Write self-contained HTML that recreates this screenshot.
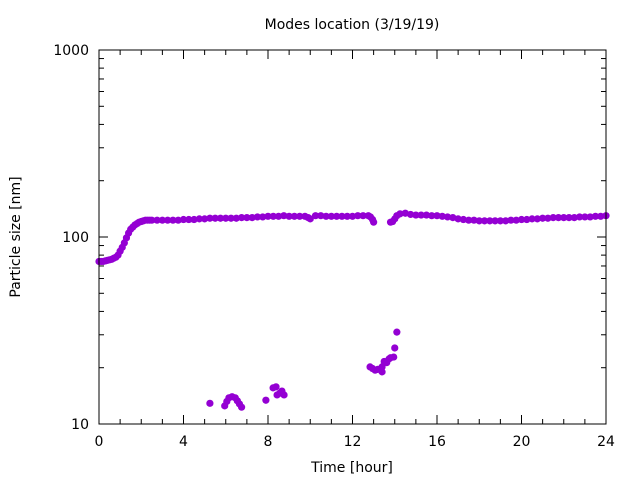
<!DOCTYPE html>
<html><head><meta charset="utf-8">
<style>
body{margin:0;background:#fff;overflow:hidden;}
svg{display:block;font-family:"DejaVu Sans","Liberation Sans",sans-serif;}
</style></head>
<body>
<svg id="chart" width="640" height="480">
<rect x="0" y="0" width="640" height="480" fill="#fff"/>
<text x="352" y="29" text-anchor="middle" font-size="14">Modes location (3/19/19)</text>
<text x="352" y="472" text-anchor="middle" font-size="14">Time [hour]</text>
<text transform="translate(20,237) rotate(-90)" text-anchor="middle" font-size="14">Particle size [nm]</text>
<g id="axes"></g>
<g id="marks"></g>
<rect x="99" y="50" width="507" height="374" fill="none" stroke="#000" stroke-width="1"/>
</svg>
<script>
const xTicks=[0,4,8,12,16,20,24];
const yTicks=[10,100,1000];
const mainTimes=[0,0.1,0.2,0.3,0.4,0.5,0.6,0.7,0.8,0.9,1.0,1.1,1.2,1.3,1.4,1.5,1.6,1.7,1.8,1.9,2.0,2.1,2.2,2.3,2.4,2.5,
2.75,3,3.25,3.5,3.75,4,4.25,4.5,4.75,5,5.25,5.5,5.75,6,6.25,6.5,6.75,7,7.25,7.5,7.75,8,8.25,8.5,8.75,9,9.25,9.5,9.75,9.9,10.0,
10.25,10.5,10.75,11,11.25,11.5,11.75,12,12.25,12.5,12.75,12.85,12.95,13.0,
13.8,13.9,14.0,14.1,14.25,14.5,14.75,
15,15.25,15.5,15.75,16,16.25,16.5,16.75,17,17.25,17.5,17.75,18,18.25,18.5,18.75,19,19.25,19.5,19.75,20,20.25,20.5,20.75,21,21.25,21.5,21.75,22,22.25,22.5,22.75,23,23.25,23.5,23.75,24];
const mainSizes=[74,74,74,74.5,75,75.5,76,77,78,80,84,88,93,99,105,110,113,116,118,120,121,122,123,123,123,123,
123,123,123,123,123,124,124,124,125,125,126,126,126,126,126,126,127,127,127,128,128,129,129,129,130,129,129,129,129,127,125,
130,130,129,129,129,129,129,129,130,130,130,128,124,120,
120,121,125,130,133,134,132,
131,131,131,130,130,129,128,127,125,124,123,123,122,122,122,122,122,122,123,123,124,124,125,125,126,126,127,127,127,127,127,128,128,128,129,129,130];
const smallTimes=[5.25,5.95,6.05,6.15,6.3,6.45,6.55,6.65,6.75,7.9,8.24,8.38,8.43,8.55,8.66,8.76,12.83,12.95,13.07,13.2,13.4,13.4,13.5,13.62,13.73,13.8,13.95,14.0,14.1];
const smallSizes=[12.9,12.5,13.2,13.8,14.0,13.8,13.3,12.8,12.3,13.4,15.6,15.8,14.3,14.6,15.0,14.3,20.2,19.8,19.4,19.6,20.2,19.0,21.6,21.3,22.3,22.6,22.8,25.5,31];

const X0=99,X1=606,Y0=424,Y1=50;
function xs(t){return X0+(t/24)*(X1-X0);}
function ys(v){return Y0-(Math.log10(v)-1)/2*(Y0-Y1);}
const NS="http://www.w3.org/2000/svg";
const axes=document.getElementById('axes');
const marks=document.getElementById('marks');
function line(g,x1,y1,x2,y2){const l=document.createElementNS(NS,'line');l.setAttribute('x1',x1);l.setAttribute('y1',y1);l.setAttribute('x2',x2);l.setAttribute('y2',y2);l.setAttribute('stroke','#000');l.setAttribute('stroke-width','1');g.appendChild(l);return l;}
for(let h=0;h<=24;h++){
  const x=xs(h), len=(h%4===0)?9:5;
  const a=line(axes,x,Y0,x,Y0-len);
  
  
  const b=line(axes,x,Y1,x,Y1+len);
  
  
}
xTicks.forEach(t=>{
  const tx=document.createElementNS(NS,'text');
  tx.setAttribute('x',xs(t));tx.setAttribute('y',446);tx.setAttribute('text-anchor','middle');tx.setAttribute('font-size','14');
  tx.textContent=t;
  
  
  axes.appendChild(tx);
});
[10,100].forEach(dec=>{
  for(let m=2;m<=9;m++){
    const y=ys(dec*m);
    const a=line(axes,X0,y,X0+5,y);
    
    
    const b=line(axes,X1,y,X1-5,y);
    
    
  }
});
yTicks.forEach(v=>{
  const y=ys(v);
  const a=line(axes,X0,y,X0+9,y);
  
  
  const b=line(axes,X1,y,X1-9,y);
  
  
  const tx=document.createElementNS(NS,'text');
  tx.setAttribute('x',89);tx.setAttribute('y',y+5);tx.setAttribute('text-anchor','end');tx.setAttribute('font-size','14');
  tx.textContent=v;
  
  
  axes.appendChild(tx);
});
function dot(t,v,name){
  const c=document.createElementNS(NS,'circle');
  c.setAttribute('cx',xs(t));c.setAttribute('cy',ys(v));c.setAttribute('r',3.6);c.setAttribute('fill','#9400d3');
  
  
  marks.appendChild(c);
}
mainTimes.forEach((t,i)=>dot(t,mainSizes[i],'main-mode-point'));
smallTimes.forEach((t,i)=>dot(t,smallSizes[i],'small-mode-point'));
</script>
</body></html>
